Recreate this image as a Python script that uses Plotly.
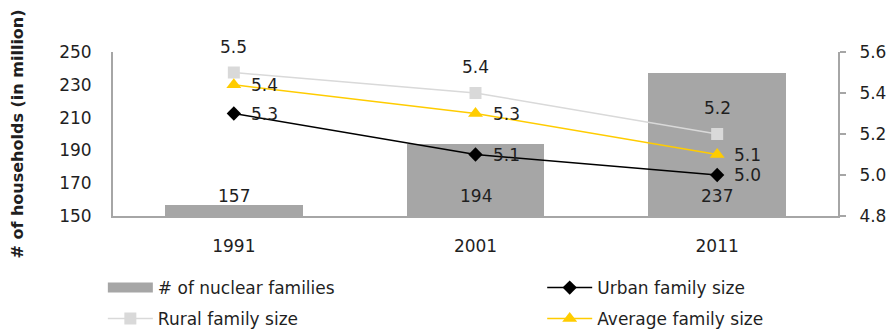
import plotly.graph_objects as go

years = ["1991", "2001", "2011"]
nuclear = [157, 194, 237]
urban = [5.3, 5.1, 5.0]
rural = [5.5, 5.4, 5.2]
average = [5.44, 5.3, 5.1]

FONT = "DejaVu Sans"
TXT = "#1f1f1f"
AX = "#a6a6a6"
BAR = "#a6a6a6"

fig = go.Figure()
fig.add_trace(go.Bar(x=years, y=nuclear, name="# of nuclear families",
                     marker=dict(color=BAR, line=dict(width=0)), width=0.57,
                     showlegend=False, legendgroup="bars"))
# legend entry for the bars (wide swatch like the reference)
fig.add_trace(go.Scatter(x=[None], y=[None], name="# of nuclear families", mode="lines",
                         line=dict(color=BAR, width=14), legendgroup="bars",
                         legend="legend"))
fig.add_trace(go.Scatter(x=years, y=urban, name="Urban family size", yaxis="y2",
                         mode="lines+markers", line=dict(color="black", width=1.5),
                         marker=dict(symbol="diamond", size=11, color="black"),
                         legend="legend2"))
fig.add_trace(go.Scatter(x=years, y=rural, name="Rural family size", yaxis="y2",
                         mode="lines+markers", line=dict(color="#d9d9d9", width=1.5),
                         marker=dict(symbol="square", size=12, color="#d9d9d9"),
                         legend="legend3"))
fig.add_trace(go.Scatter(x=years, y=average, name="Average family size", yaxis="y2",
                         mode="lines+markers", line=dict(color="#ffcc00", width=1.5),
                         marker=dict(symbol="triangle-up", size=13, color="#ffcc00"),
                         legend="legend4"))

ann = []
for i, v in enumerate(nuclear):
    ann.append(dict(x=i, y=162, xref="x", yref="y", text=str(v), showarrow=False,
                    font=dict(family=FONT, size=17, color=TXT)))
for i, v in enumerate(rural):
    ann.append(dict(x=i, y=v, xref="x", yref="y2", text=f"{v:.1f}", showarrow=False,
                    yshift=26, font=dict(family=FONT, size=17, color=TXT)))
for i, v in enumerate(average):
    ann.append(dict(x=i, y=v, xref="x", yref="y2", text=f"{v:.1f}", showarrow=False,
                    xanchor="left", xshift=15, font=dict(family=FONT, size=17, color=TXT)))
for i, v in enumerate(urban):
    ann.append(dict(x=i, y=v, xref="x", yref="y2", text=f"{v:.1f}", showarrow=False,
                    xanchor="left", xshift=15, font=dict(family=FONT, size=17, color=TXT)))

leg_common = dict(orientation="v", xanchor="left", yanchor="middle",
                  font=dict(family=FONT, size=17, color=TXT),
                  itemwidth=45, bgcolor="rgba(0,0,0,0)")

XL, XR = -0.014, 0.592
YT, YB = -0.439, -0.628

fig.update_layout(
    width=891, height=331,
    margin=dict(l=113, r=53, t=52, b=115, autoexpand=False),
    paper_bgcolor="white", plot_bgcolor="white",
    font=dict(family=FONT, size=17, color=TXT),
    bargap=0,
    xaxis=dict(type="category", range=[-0.5, 2.5], showline=True, linecolor=AX,
               linewidth=2, ticks="", showgrid=False, ticklabelstandoff=14,
               tickfont=dict(family=FONT, size=17, color=TXT)),
    yaxis=dict(title=dict(text="<b># of households (in million)</b>", standoff=32,
                          font=dict(family=FONT, size=16, color=TXT)),
               range=[150, 250], tick0=150, dtick=20, showline=True, linecolor=AX,
               linewidth=2, ticks="", showgrid=False, zeroline=False,
               ticklabelstandoff=16, tickfont=dict(family=FONT, size=17, color=TXT)),
    yaxis2=dict(overlaying="y", side="right", range=[4.8, 5.6], tick0=4.8, dtick=0.2,
                tickformat=".1f", showline=True, linecolor=AX, linewidth=2,
                ticks="outside", ticklen=6, tickcolor=AX, tickwidth=2,
                showgrid=False, zeroline=False, ticklabelstandoff=10,
                tickfont=dict(family=FONT, size=17, color=TXT)),
    legend=dict(x=XL, y=YT, **leg_common),
    legend2=dict(x=XR, y=YT, **leg_common),
    legend3=dict(x=XL, y=YB, **leg_common),
    legend4=dict(x=XR, y=YB, **leg_common),
    annotations=ann,
)

fig.write_html("out.html")
